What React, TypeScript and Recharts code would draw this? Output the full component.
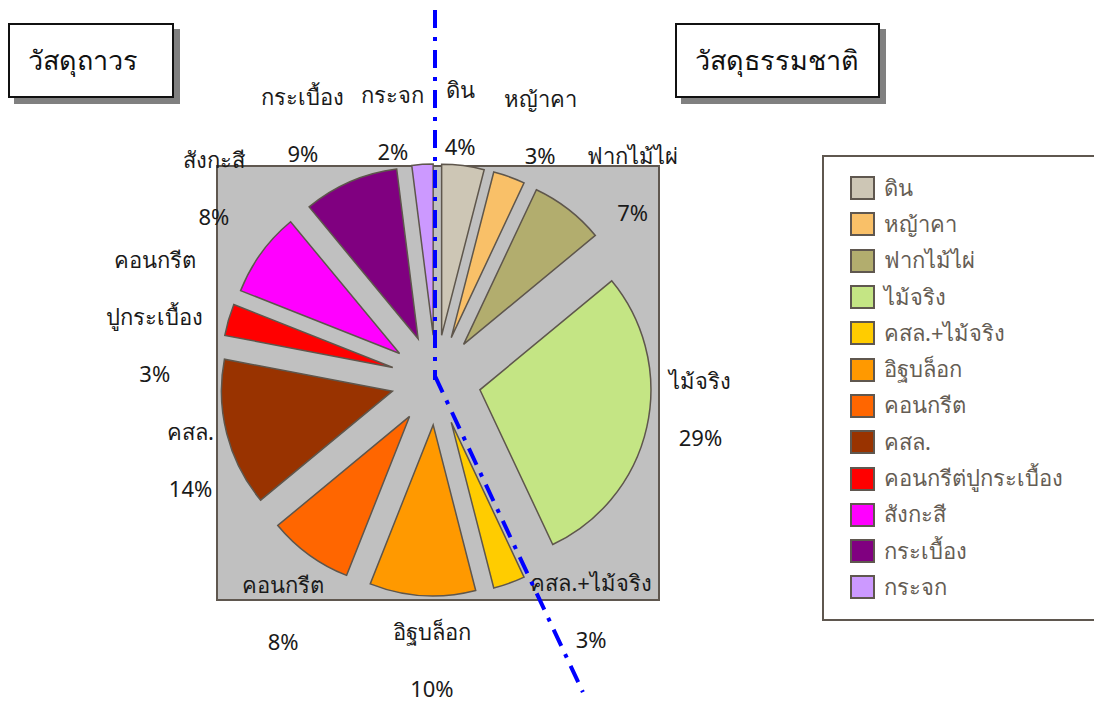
import React from "react";
import { PieChart, Pie, Cell, Sector, Legend } from "recharts";

// categories in clockwise order from 12 o'clock
const CATEGORIES = [
  "ดิน",
  "หญ้าคา",
  "ฟากไม้ไผ่",
  "ไม้จริง",
  "คสล.+ไม้จริง",
  "อิฐบล็อก",
  "คอนกรีต",
  "คสล.",
  "คอนกรีต่ปูกระเบื้อง",
  "สังกะสี",
  "กระเบื้อง",
  "กระจก",
];
const SHARES = [4, 3, 7, 29, 3, 10, 8, 14, 3, 8, 9, 2];
// text shown next to each slice (one entry per line)
const SLICE_LABELS = [
  ["ดิน"],
  ["หญ้าคา"],
  ["ฟากไม้ไผ่"],
  ["ไม้จริง"],
  ["คสล.+ไม้จริง"],
  ["อิฐบล็อก"],
  ["คอนกรีต"],
  ["คสล."],
  ["คอนกรีต", "ปูกระเบื้อง"],
  ["สังกะสี"],
  ["กระเบื้อง"],
  ["กระจก"],
];
const NATURAL_COUNT = 4; // first 4 categories = วัสดุธรรมชาติ

const COLORS = [
  "#cdc6b5",
  "#f9c068",
  "#b2ad6e",
  "#c4e584",
  "#ffcc00",
  "#ff9900",
  "#ff6600",
  "#993300",
  "#ff0000",
  "#ff00ff",
  "#800080",
  "#cc99ff",
];
// manual nudges of the label blocks (Excel-style dragged labels)
const LABEL_NUDGE = [
  [-10, 7],
  [12, 2],
  [30, 18],
  [-1, -31],
  [63, -25],
  [13, 8],
  [7, 12],
  [18, 12],
  [-20, 12],
  [-2, -33],
  [-25, -6],
  [-26, 14],
];

const data = CATEGORIES.map((name, i) => ({ name, value: SHARES[i] }));

const FONT = "'Noto Sans', 'DejaVu Sans', sans-serif";
const CX = 436;
const CY = 380;
const RADIUS = 171;
const EXPLODE = 45;
const LABEL_R = 272;
const LINE_H = 57;
const RAD = Math.PI / 180;

const renderSlice = (props: any) => {
  const { cx, cy, midAngle, outerRadius, startAngle, endAngle, index, percent } = props;
  const dx = EXPLODE * Math.cos(-midAngle * RAD);
  const dy = EXPLODE * Math.sin(-midAngle * RAD);
  const lines = [...SLICE_LABELS[index], `${Math.round(percent * 100)}%`];
  const lx = cx + LABEL_R * Math.cos(-midAngle * RAD) + LABEL_NUDGE[index][0];
  const ly = cy + LABEL_R * Math.sin(-midAngle * RAD) + LABEL_NUDGE[index][1];
  const top = ly - ((lines.length - 1) * LINE_H) / 2;
  return (
    <g key={`slice-${index}`}>
      <Sector
        cx={cx + dx}
        cy={cy + dy}
        innerRadius={0}
        outerRadius={outerRadius}
        startAngle={startAngle}
        endAngle={endAngle}
        fill={COLORS[index]}
        stroke="#5e564c"
        strokeWidth={1.5}
      />
      {lines.map((t, j) => (
        <text
          key={j}
          x={lx}
          y={top + j * LINE_H}
          textAnchor="middle"
          dominantBaseline="central"
          fontSize={22}
          fontFamily={FONT}
          fill="#1a1a1a"
        >
          {t}
        </text>
      ))}
    </g>
  );
};

const renderLegend = (props: any) => {
  // keep the series order instead of recharts' alphabetical sort
  const payload = [...(props.payload || [])].sort(
    (a: any, b: any) => CATEGORIES.indexOf(a.value) - CATEGORIES.indexOf(b.value)
  );
  return (
    <div
      style={{
        border: "2px solid #5f574f",
        width: 290,
        height: 466,
        boxSizing: "border-box",
        padding: "13px 0 0 26px",
        background: "#fff",
        fontFamily: FONT,
      }}
    >
      {payload.map((entry: any, i: number) => (
        <div key={i} style={{ display: "flex", alignItems: "center", height: 36.3 }}>
          <span
            style={{
              display: "inline-block",
              width: 25,
              height: 24,
              boxSizing: "border-box",
              background: entry.color,
              border: "2px solid #5f574f",
              marginRight: 9,
            }}
          />
          <span style={{ fontSize: 22, color: "#655d54" }}>{entry.value}</span>
        </div>
      ))}
    </div>
  );
};

const boxStyle = (left: number, width: number): React.CSSProperties => ({
  position: "absolute",
  left,
  top: 23,
  width,
  height: 75,
  boxSizing: "border-box",
  border: "2px solid #111",
  background: "#fff",
  boxShadow: "6px 6px 0 #808080",
  fontFamily: FONT,
  fontSize: 27,
  color: "#111",
  display: "flex",
  alignItems: "center",
  paddingLeft: 18,
});

export default function App() {
  const naturalShare = SHARES.slice(0, NATURAL_COUNT).reduce((a, b) => a + b, 0);
  const total = SHARES.reduce((a, b) => a + b, 0);
  const splitAngle = (naturalShare / total) * 360; // clockwise from top
  const diagLen = 345;
  const ex = CX + diagLen * Math.sin(splitAngle * RAD);
  const ey = CY - diagLen * Math.cos(splitAngle * RAD);

  return (
    <div
      style={{
        position: "absolute",
        left: 0,
        top: 0,
        width: 1094,
        height: 702,
        background: "#fff",
        overflow: "hidden",
      }}
    >
      {/* plot area */}
      <div
        style={{
          position: "absolute",
          left: 216,
          top: 165,
          width: 444,
          height: 436,
          boxSizing: "border-box",
          border: "2px solid #5f574f",
          background: "#c0c0c0",
        }}
      />
      <div style={{ position: "absolute", left: 0, top: 0 }}>
        <PieChart width={1094} height={702} margin={{ top: 0, right: 0, bottom: 0, left: 0 }}>
          <Pie
            data={data}
            dataKey="value"
            nameKey="name"
            cx={CX}
            cy={CY}
            outerRadius={RADIUS}
            startAngle={90}
            endAngle={-270}
            stroke="none"
            label={renderSlice}
            labelLine={false}
            isAnimationActive={false}
          >
            {data.map((d, i) => (
              <Cell key={d.name} fill={COLORS[i]} fillOpacity={0} />
            ))}
          </Pie>
          <Legend
            layout="vertical"
            align="right"
            verticalAlign="top"
            content={renderLegend}
            wrapperStyle={{ left: 822, top: 155, width: 290 }}
          />
        </PieChart>
      </div>
      <svg
        width={1094}
        height={702}
        style={{ position: "absolute", left: 0, top: 0, pointerEvents: "none" }}
      >
        <line
          x1={CX - 1}
          y1={10}
          x2={CX - 1}
          y2={CY}
          stroke="#0000ff"
          strokeWidth={4}
          strokeDasharray="18 9 4 9"
        />
        <line
          x1={CX - 1}
          y1={CY - 4}
          x2={ex}
          y2={ey}
          stroke="#0000ff"
          strokeWidth={4}
          strokeDasharray="18 9 4 9"
        />
      </svg>
      <div style={boxStyle(8, 166)}>วัสดุถาวร</div>
      <div style={boxStyle(675, 205)}>วัสดุธรรมชาติ</div>
    </div>
  );
}
